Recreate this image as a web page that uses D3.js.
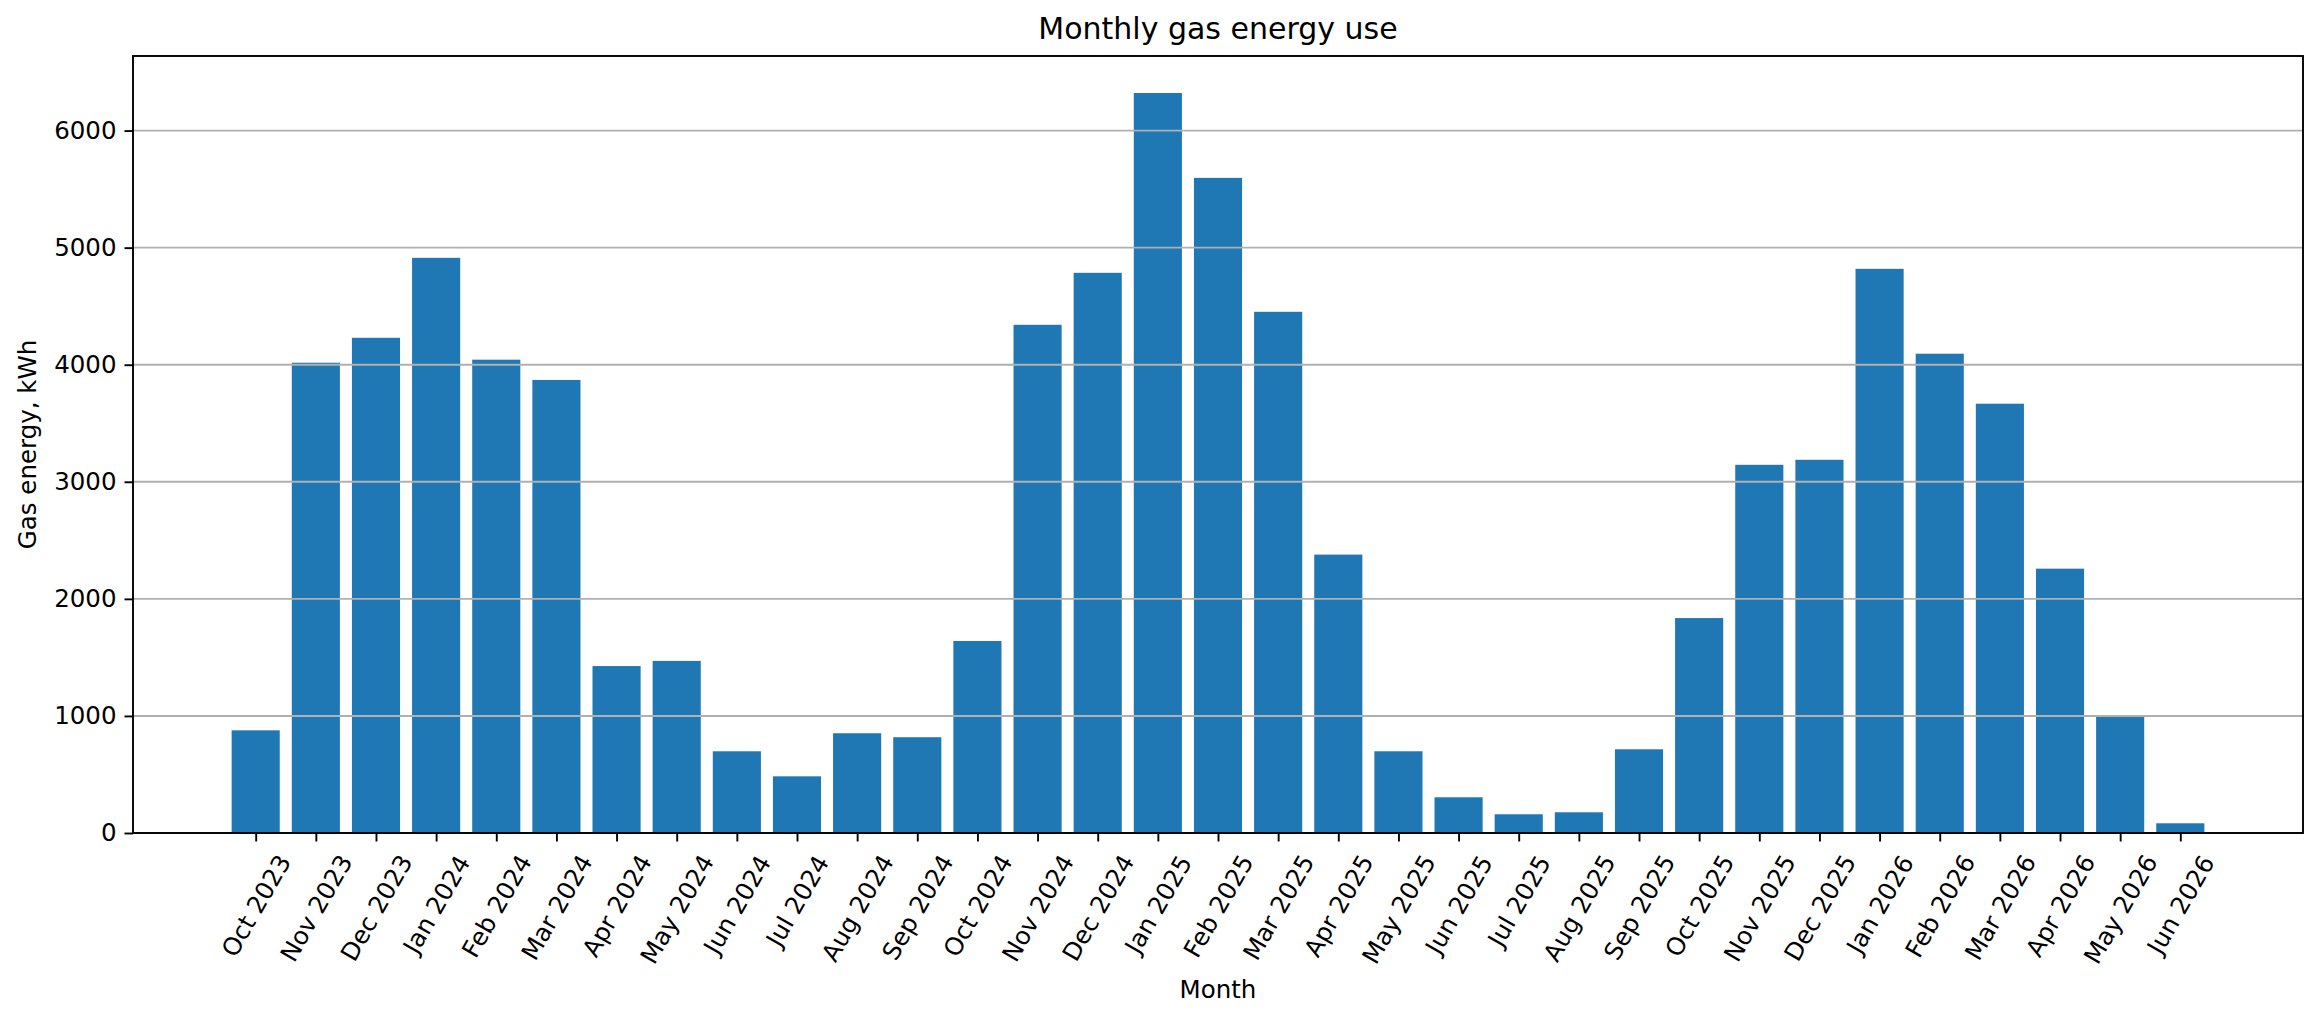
<!DOCTYPE html>
<html>
<head>
<meta charset="utf-8">
<script src="https://cdn.jsdelivr.net/npm/d3@7"></script>
<style>
  html, body { margin: 0; padding: 0; background: #fff; }
  svg { display: block; }
  text { font-family: "DejaVu Sans", sans-serif; fill: #000; }
</style>
</head>
<body>
<svg id="chart" width="2321" height="1022"></svg>
<script>
const months = ["Oct 2023","Nov 2023","Dec 2023","Jan 2024","Feb 2024","Mar 2024","Apr 2024","May 2024","Jun 2024","Jul 2024","Aug 2024","Sep 2024","Oct 2024","Nov 2024","Dec 2024","Jan 2025","Feb 2025","Mar 2025","Apr 2025","May 2025","Jun 2025","Jul 2025","Aug 2025","Sep 2025","Oct 2025","Nov 2025","Dec 2025","Jan 2026","Feb 2026","Mar 2026","Apr 2026","May 2026","Jun 2026"];
const gasKWh = [877, 4017, 4230, 4913, 4043, 3870, 1426, 1470, 698, 484, 852, 818, 1640, 4341, 4785, 6321, 5596, 4452, 2378, 698, 305, 160, 177, 715, 1836, 3145, 3188, 4819, 4094, 3667, 2258, 991, 83];
const yTicks = [0, 1000, 2000, 3000, 4000, 5000, 6000];
const titleText = "Monthly gas energy use";
const xLabelText = "Month";
const yLabelText = "Gas energy, kWh";

(function () {
const svg = d3.select("#chart");
const mL = 133, mR = 2303, mT = 56, mB = 833;
const barW = 0.8;
const n = months.length;
const pad = (n - 1 + barW) * 0.05;

const x = d3.scaleLinear().domain([-barW/2 - pad, n - 1 + barW/2 + pad]).range([mL, mR]);
const y = d3.scaleLinear().domain([0, d3.max(gasKWh) * 1.05]).range([mB, mT]);

// bars
svg.append("g").selectAll("rect").data(gasKWh).join("rect")
  .attr("x", (d, i) => x(i - barW/2))
  .attr("width", (d, i) => x(i + barW/2) - x(i - barW/2))
  .attr("y", d => y(d))
  .attr("height", d => y(0) - y(d))
  .attr("fill", "#1f77b4");

// grid (drawn above bars like matplotlib default)
svg.append("g").selectAll("line").data(yTicks).join("line")
  .attr("x1", mL).attr("x2", mR)
  .attr("y1", d => y(d)).attr("y2", d => y(d))
  .attr("stroke", "#b0b0b0").attr("stroke-width", 1.9);

// y axis
const yAxis = svg.append("g").attr("transform", `translate(${mL},0)`)
  .call(d3.axisLeft(y).tickValues(yTicks).tickFormat(d3.format("d")).tickSize(8.5).tickPadding(8));
yAxis.select(".domain").remove();
yAxis.selectAll(".tick line").attr("stroke", "#000").attr("stroke-width", 1.9);
yAxis.selectAll(".tick text").attr("font-size", 24.5).attr("font-family", "DejaVu Sans").attr("fill", "#000");

// x axis
const xAxis = svg.append("g").attr("transform", `translate(0,${mB})`)
  .call(d3.axisBottom(x).tickValues(d3.range(n)).tickFormat(i => months[i]).tickSize(8.5).tickPadding(8));
xAxis.select(".domain").remove();
xAxis.selectAll(".tick line").attr("stroke", "#000").attr("stroke-width", 1.9);
xAxis.selectAll(".tick text")
  .attr("font-size", 24.5).attr("font-family", "DejaVu Sans").attr("fill", "#000")
  .each(function () {
    const t = d3.select(this);
    t.attr("text-anchor", "middle").attr("dy", null).attr("dominant-baseline", "central").attr("y", 0);
    const bb = this.getBBox();
    const W = bb.width, H = 28;
    const a = 60 * Math.PI / 180;
    const rh = W * Math.sin(a) + H * Math.cos(a);
    const cy = 8.5 + 8.5 + rh / 2;
    t.attr("transform", `translate(0,${cy}) rotate(-60)`);
  });

// frame
svg.append("rect").attr("x", mL).attr("y", mT)
  .attr("width", mR - mL).attr("height", mB - mT)
  .attr("fill", "none").attr("stroke", "#000").attr("stroke-width", 1.9);

// title and labels
svg.append("text").attr("x", (mL + mR) / 2).attr("y", 39)
  .attr("text-anchor", "middle").attr("font-size", 30).text(titleText);
svg.append("text").attr("x", (mL + mR) / 2).attr("y", 998)
  .attr("text-anchor", "middle").attr("font-size", 24.5).text(xLabelText);
svg.append("text").attr("transform", `translate(36,${(mT + mB) / 2}) rotate(-90)`)
  .attr("text-anchor", "middle").attr("font-size", 24.5).text(yLabelText);
})();
</script>
</body>
</html>
